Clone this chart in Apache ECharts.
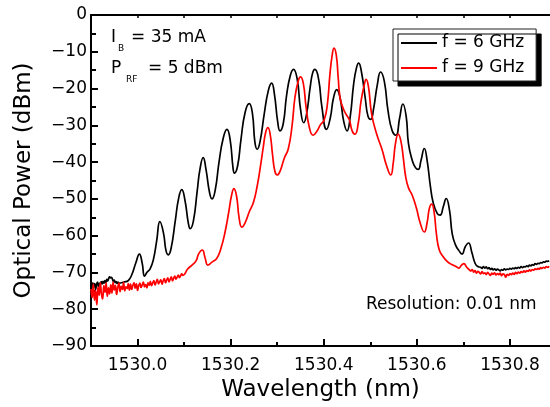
<!DOCTYPE html>
<html>
<head>
<meta charset="utf-8">
<script src="https://cdn.jsdelivr.net/npm/echarts@6/dist/echarts.min.js"></script>
<style>
  html, body { margin: 0; padding: 0; background: #fff; }
  #chart { width: 550px; height: 407px; }
</style>
</head>
<body>
<div id="chart"></div>
<script>
// ---- Spectrum data (wavelength in nm, optical power in dBm) ----

// Tick values
const xMajorTicks = [1530.0, 1530.2, 1530.4, 1530.6, 1530.8];
const xMinorTicks = [1530.1, 1530.3, 1530.5, 1530.7];
const yMajorTicks = [0, -10, -20, -30, -40, -50, -60, -70, -80, -90];

// f = 6 GHz : noise floor on the short-wavelength side (regular 0.002 nm grid)
const black6LeftStart = 1529.900;
const black6LeftStep = 0.002;
const black6Left = [
  -73.5, -74.2, -72.8, -73.9, -73.0, -74.6, -73.2, -72.6, -73.8, -72.9,
  -73.4, -72.5, -73.1, -72.4, -72.9, -72.2, -72.7, -71.9, -72.3, -71.6,
  -71.2, -71.5, -71.3, -71.8, -72.4, -72.1, -72.8, -72.5, -73.0, -72.6,
  -72.9
];

// f = 6 GHz : comb lines [wavelength, power]
const black6Comb = [
  [1529.971, -72.6], [1529.980, -72.2], [1529.988, -70.5], [1529.996, -67.5],
  [1530.004, -65.0], [1530.010, -67.5], [1530.015, -71.0], [1530.020, -70.0],
  [1530.027, -69.0], [1530.034, -66.5], [1530.041, -61.5], [1530.048, -56.2],
  [1530.056, -59.5], [1530.061, -64.0], [1530.066, -65.2], [1530.072, -63.5],
  [1530.081, -56.0], [1530.088, -50.0], [1530.095, -47.5], [1530.102, -50.5],
  [1530.109, -56.5], [1530.113, -58.1], [1530.120, -56.0], [1530.128, -48.0],
  [1530.134, -42.0], [1530.141, -38.8], [1530.147, -42.0], [1530.155, -48.5],
  [1530.160, -50.0], [1530.167, -47.5], [1530.175, -40.0], [1530.184, -33.5],
  [1530.192, -31.1], [1530.199, -34.0], [1530.205, -41.5], [1530.208, -43.0],
  [1530.215, -41.0], [1530.222, -34.0], [1530.231, -26.5], [1530.240, -24.1],
  [1530.247, -27.0], [1530.252, -34.5], [1530.257, -36.5], [1530.263, -34.5],
  [1530.272, -27.0], [1530.281, -20.5], [1530.288, -18.5], [1530.294, -21.5],
  [1530.301, -29.0], [1530.306, -31.5], [1530.313, -29.5], [1530.320, -22.0],
  [1530.328, -16.5], [1530.335, -14.8], [1530.343, -17.5], [1530.350, -25.5],
  [1530.357, -29.3], [1530.363, -27.0], [1530.371, -19.5], [1530.376, -15.8],
  [1530.381, -14.8], [1530.389, -17.5], [1530.396, -25.0], [1530.406, -31.1],
  [1530.414, -28.0], [1530.421, -22.5], [1530.428, -20.3], [1530.435, -22.5],
  [1530.443, -29.0], [1530.450, -31.5], [1530.457, -27.5], [1530.464, -19.0],
  [1530.470, -14.5], [1530.475, -13.1], [1530.481, -15.5], [1530.489, -22.5],
  [1530.495, -27.5], [1530.501, -28.4], [1530.507, -25.5], [1530.515, -19.0],
  [1530.522, -15.5], [1530.530, -18.0], [1530.538, -26.0], [1530.547, -31.5],
  [1530.555, -32.7], [1530.563, -28.0], [1530.570, -24.2], [1530.577, -27.5],
  [1530.582, -35.0], [1530.590, -39.5], [1530.597, -41.5], [1530.603, -42.0],
  [1530.609, -39.5], [1530.616, -36.3], [1530.622, -39.5], [1530.629, -46.5],
  [1530.635, -51.0], [1530.644, -54.0], [1530.650, -54.4], [1530.657, -52.0],
  [1530.663, -49.9], [1530.670, -53.0], [1530.676, -59.5], [1530.683, -62.5],
  [1530.690, -64.0], [1530.697, -65.0], [1530.704, -63.0], [1530.711, -62.0],
  [1530.718, -64.5], [1530.725, -67.5], [1530.731, -68.4]
];

// f = 6 GHz : noise floor on the long-wavelength side (regular 0.003 nm grid)
const black6RightStart = 1530.737;
const black6RightStep = 0.003;
const black6Right = [
  -68.6, -68.9, -68.4, -68.8, -68.5, -69.0, -68.7, -69.2, -68.9, -69.3,
  -69.0, -69.4, -69.1, -69.3, -69.6, -69.2, -69.4, -69.0, -69.3, -69.1,
  -69.2, -68.9, -69.1, -68.8, -69.0, -68.7, -68.9, -68.6, -68.8, -68.4,
  -68.7, -68.4, -68.5, -68.2, -68.4, -68.0, -68.2, -67.9, -68.0, -67.6,
  -67.8, -67.5, -67.6, -67.3, -67.4, -67.1, -67.2, -66.9, -67.0, -66.8
];

// f = 9 GHz : noise floor on the short-wavelength side (regular 0.0025 nm grid)
const red9LeftStart = 1529.900;
const red9LeftStep = 0.0025;
const red9Left = [
  -74.5, -76.8, -73.2, -77.5, -75.0, -78.8, -74.0, -76.2, -72.8, -75.9,
  -77.2, -73.6, -75.4, -72.9, -76.5, -74.2, -75.8,
  -73.4, -75.6, -72.6, -74.8, -73.5, -76.0, -74.1, -72.9, -75.2, -73.8,
  -74.6, -72.7, -75.0, -73.9, -74.4, -73.0, -74.8,
  -73.2, -74.6, -73.5, -72.8, -74.3, -73.1, -74.9, -73.6, -72.9, -74.1,
  -73.4, -72.6, -73.9, -73.3, -74.2, -72.8, -73.5,
  -72.4, -73.6, -72.9, -72.2, -73.4, -72.6, -71.9, -73.1, -72.5, -72.0,
  -73.2, -72.3, -71.7, -72.8, -72.1, -71.5, -72.6,
  -71.9, -71.2, -72.3, -71.6, -71.0, -71.8, -71.3, -70.7, -71.4, -70.9,
  -70.4, -70.8
];

// f = 9 GHz : comb lines [wavelength, power]
const red9Comb = [
  [1530.108, -69.0], [1530.117, -68.0], [1530.126, -66.8], [1530.131, -65.0],
  [1530.139, -63.9], [1530.145, -66.0], [1530.151, -68.0], [1530.160, -67.2],
  [1530.170, -66.2], [1530.179, -63.5], [1530.188, -59.0], [1530.196, -53.5],
  [1530.202, -49.0], [1530.207, -47.2], [1530.213, -49.5], [1530.218, -55.0],
  [1530.224, -57.7], [1530.231, -56.5], [1530.240, -53.5], [1530.249, -50.9],
  [1530.257, -46.5], [1530.263, -42.0], [1530.270, -36.0], [1530.275, -32.0],
  [1530.280, -30.6], [1530.285, -32.5], [1530.290, -38.0], [1530.295, -42.5],
  [1530.300, -43.5], [1530.306, -42.5], [1530.315, -39.0], [1530.324, -36.3],
  [1530.332, -30.0], [1530.338, -22.5], [1530.345, -18.0], [1530.350, -16.8],
  [1530.356, -18.5], [1530.362, -25.0], [1530.369, -30.5], [1530.377, -32.7],
  [1530.386, -31.5], [1530.392, -30.0], [1530.401, -28.5], [1530.408, -24.0],
  [1530.413, -16.5], [1530.418, -11.0], [1530.422, -9.0], [1530.427, -11.0],
  [1530.431, -17.0], [1530.435, -22.5], [1530.442, -25.5], [1530.448, -27.0],
  [1530.455, -28.5], [1530.461, -31.5], [1530.467, -32.4], [1530.474, -29.5],
  [1530.480, -23.5], [1530.487, -19.0], [1530.491, -17.5], [1530.496, -19.5],
  [1530.503, -27.0], [1530.514, -32.5], [1530.525, -36.5], [1530.535, -41.0],
  [1530.544, -43.5], [1530.549, -40.5], [1530.554, -35.0], [1530.560, -32.4],
  [1530.566, -34.5], [1530.571, -39.0], [1530.576, -44.0], [1530.582, -47.0],
  [1530.590, -49.0], [1530.599, -52.5], [1530.607, -56.5], [1530.616, -59.0],
  [1530.622, -56.5], [1530.627, -52.5], [1530.632, -51.4], [1530.637, -53.5],
  [1530.642, -59.5], [1530.648, -63.8], [1530.657, -65.8], [1530.665, -67.0],
  [1530.674, -67.8], [1530.683, -68.3], [1530.690, -68.8], [1530.696, -68.0],
  [1530.701, -67.6], [1530.707, -68.6], [1530.713, -69.3]
];

// f = 9 GHz : noise floor on the long-wavelength side (regular 0.003 nm grid)
const red9RightStart = 1530.716;
const red9RightStep = 0.003;
const red9Right = [
  -69.6, -69.2, -69.9, -69.5, -70.2, -69.7, -70.0, -70.4, -69.8, -70.3,
  -70.1, -70.6, -70.0, -70.4, -70.8, -70.2, -70.5, -70.1, -70.7, -70.3,
  -70.6, -70.2, -70.9, -70.4, -70.6, -71.3, -70.5, -70.8, -70.3, -70.6,
  -70.2, -70.5, -70.0, -70.3, -69.9, -70.2, -69.8, -70.0, -69.6, -69.9,
  -69.5, -69.7, -69.3, -69.6, -69.2, -69.4, -69.0, -69.2, -68.9, -69.1,
  -68.7, -68.9, -68.6, -68.8, -68.4, -68.6, -68.3
];

// Pair a run of readings with its wavelength grid
function onGrid(start, step, values) {
  return values.map(function (v, i) { return [+(start + i * step).toFixed(4), v]; });
}

const series6GHz = onGrid(black6LeftStart, black6LeftStep, black6Left)
  .concat(black6Comb, onGrid(black6RightStart, black6RightStep, black6Right));
const series9GHz = onGrid(red9LeftStart, red9LeftStep, red9Left)
  .concat(red9Comb, onGrid(red9RightStart, red9RightStep, red9Right));

// ---- Chart ----
const FONT = '"DejaVu Sans", "Liberation Sans", Arial, sans-serif';
const xMin = 1529.9, xMax = 1530.886;
const ink = '#000';

const chart = echarts.init(document.getElementById('chart'), null, { renderer: 'canvas' });

function xAxisBase(extra) {
  return Object.assign({
    type: 'value', min: xMin, max: xMax,
    splitLine: { show: false },
    axisLabel: { show: false },
    axisLine: { show: false, onZero: false }
  }, extra);
}

chart.setOption({
  animation: false,
  backgroundColor: '#fff',
  grid: { left: 91, top: 15, right: 0, bottom: 60, containLabel: false },
  xAxis: [
    xAxisBase({
      position: 'bottom',
      axisLine: { show: true, onZero: false, lineStyle: { color: ink, width: 2 } },
      axisTick: { show: true, inside: true, length: 7, customValues: xMajorTicks,
                  lineStyle: { color: ink, width: 2 } },
      axisLabel: { show: true, customValues: xMajorTicks, margin: 11,
                   color: ink, fontSize: 17, fontFamily: FONT,
                   formatter: function (v) { return v.toFixed(1); } },
      name: 'Wavelength (nm)', nameLocation: 'middle', nameGap: 33,
      nameTextStyle: { color: ink, fontSize: 23, fontFamily: FONT }
    }),
    xAxisBase({
      position: 'bottom',
      axisTick: { show: true, inside: true, length: 4, customValues: xMinorTicks,
                  lineStyle: { color: ink, width: 2 } }
    }),
    xAxisBase({
      position: 'top',
      axisLine: { show: true, onZero: false, lineStyle: { color: ink, width: 2 } },
      axisTick: { show: true, inside: true, length: 3,
                  customValues: xMajorTicks.concat(xMinorTicks),
                  lineStyle: { color: ink, width: 1.5 } }
    })
  ],
  yAxis: {
    type: 'value', min: -90, max: 0, interval: 10,
    splitLine: { show: false },
    axisLine: { show: true, onZero: false, lineStyle: { color: ink, width: 2 } },
    axisTick: { show: true, inside: true, length: 7, customValues: yMajorTicks,
                lineStyle: { color: ink, width: 2 } },
    minorTick: { show: true, splitNumber: 2, length: 5, lineStyle: { color: ink, width: 2 } },
    minorSplitLine: { show: false },
    axisLabel: { customValues: yMajorTicks, margin: 4, color: ink, fontSize: 17, fontFamily: FONT,
                 formatter: function (v) { return v < 0 ? '\u2212' + Math.abs(v) : String(v); } },
    name: 'Optical Power (dBm)', nameLocation: 'middle', nameGap: 55,
    nameTextStyle: { color: ink, fontSize: 23, fontFamily: FONT }
  },
  legend: {
    orient: 'vertical', left: 393, top: 29,
    padding: [4, 12, 3, 8], itemGap: 5, itemWidth: 36, itemHeight: 2,
    icon: 'rect',
    backgroundColor: '#fff', borderColor: '#222', borderWidth: 1, borderRadius: 0,
    shadowColor: '#000', shadowBlur: 0, shadowOffsetX: 5, shadowOffsetY: 5,
    textStyle: { color: ink, fontSize: 17, fontFamily: FONT, lineHeight: 20 },
    data: ['f = 6 GHz', 'f = 9 GHz']
  },
  graphic: [
    { type: 'text', x: 111, y: 38, style: { text: 'I', font: '17px ' + FONT, fill: ink, verticalAlign: 'middle' } },
    { type: 'text', x: 118, y: 49, style: { text: 'B', font: '9px ' + FONT, fill: ink, verticalAlign: 'middle' } },
    { type: 'text', x: 131, y: 38, style: { text: '= 35 mA', font: '17px ' + FONT, fill: ink, verticalAlign: 'middle' } },
    { type: 'text', x: 111, y: 69, style: { text: 'P', font: '17px ' + FONT, fill: ink, verticalAlign: 'middle' } },
    { type: 'text', x: 126, y: 80, style: { text: 'RF', font: '9px ' + FONT, fill: ink, verticalAlign: 'middle' } },
    { type: 'text', x: 148, y: 69, style: { text: '= 5 dBm', font: '17px ' + FONT, fill: ink, verticalAlign: 'middle' } },
    { type: 'text', x: 366, y: 305, style: { text: 'Resolution: 0.01 nm', font: '17px ' + FONT, fill: ink, verticalAlign: 'middle' } }
  ],
  series: [
    {
      name: 'f = 6 GHz', type: 'line', xAxisIndex: 0, yAxisIndex: 0,
      data: series6GHz, symbol: 'none', smooth: 0.5,
      lineStyle: { color: '#000', width: 1.7 }, itemStyle: { color: '#000' },
      emphasis: { disabled: true }
    },
    {
      name: 'f = 9 GHz', type: 'line', xAxisIndex: 0, yAxisIndex: 0,
      data: series9GHz, symbol: 'none', smooth: 0.5,
      lineStyle: { color: '#ff0000', width: 1.7 }, itemStyle: { color: '#ff0000' },
      emphasis: { disabled: true }
    }
  ]
});
</script>
</body>
</html>
